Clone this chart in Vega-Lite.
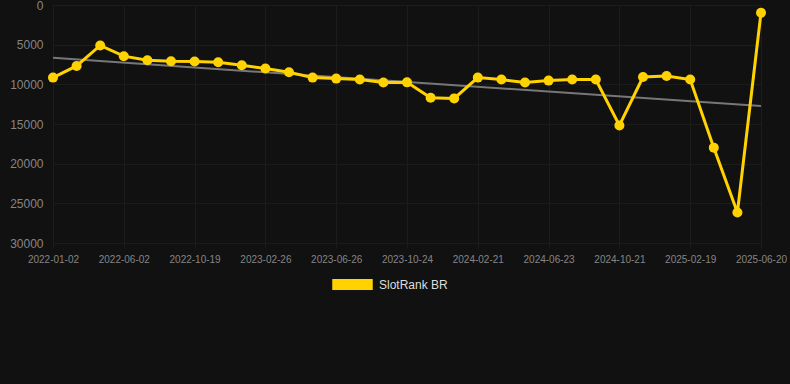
{
  "$schema": "https://vega.github.io/schema/vega-lite/v6.json",
  "autosize": "none",
  "width": 708,
  "height": 238,
  "padding": {"left": 53, "top": 5, "right": 29, "bottom": 141},
  "background": "#111111",
  "config": {
    "view": {"stroke": null},
    "font": "Liberation Sans",
    "axis": {"gridColor": "#1c1c1c", "gridWidth": 1, "domain": false, "labelColor": "#858585", "labelFont": "Liberation Sans"}
  },
  "datasets": {
    "rank": [
      {"date": "2022-01-02", "rank": 9150, "series": "SlotRank BR"},
      {"date": "2022-02-21", "rank": 7680, "series": "SlotRank BR"},
      {"date": "2022-04-12", "rank": 5100, "series": "SlotRank BR"},
      {"date": "2022-06-02", "rank": 6450, "series": "SlotRank BR"},
      {"date": "2022-07-17", "rank": 6960, "series": "SlotRank BR"},
      {"date": "2022-09-03", "rank": 7090, "series": "SlotRank BR"},
      {"date": "2022-10-19", "rank": 7130, "series": "SlotRank BR"},
      {"date": "2022-12-05", "rank": 7220, "series": "SlotRank BR"},
      {"date": "2023-01-15", "rank": 7600, "series": "SlotRank BR"},
      {"date": "2023-02-26", "rank": 8000, "series": "SlotRank BR"},
      {"date": "2023-04-08", "rank": 8480, "series": "SlotRank BR"},
      {"date": "2023-05-17", "rank": 9150, "series": "SlotRank BR"},
      {"date": "2023-06-26", "rank": 9280, "series": "SlotRank BR"},
      {"date": "2023-08-05", "rank": 9400, "series": "SlotRank BR"},
      {"date": "2023-09-14", "rank": 9780, "series": "SlotRank BR"},
      {"date": "2023-10-24", "rank": 9750, "series": "SlotRank BR"},
      {"date": "2023-12-03", "rank": 11680, "series": "SlotRank BR"},
      {"date": "2024-01-12", "rank": 11770, "series": "SlotRank BR"},
      {"date": "2024-02-21", "rank": 9150, "series": "SlotRank BR"},
      {"date": "2024-04-01", "rank": 9400, "series": "SlotRank BR"},
      {"date": "2024-05-12", "rank": 9780, "series": "SlotRank BR"},
      {"date": "2024-06-23", "rank": 9530, "series": "SlotRank BR"},
      {"date": "2024-08-02", "rank": 9400, "series": "SlotRank BR"},
      {"date": "2024-09-11", "rank": 9400, "series": "SlotRank BR"},
      {"date": "2024-10-21", "rank": 15190, "series": "SlotRank BR"},
      {"date": "2024-11-30", "rank": 9080, "series": "SlotRank BR"},
      {"date": "2025-01-09", "rank": 8950, "series": "SlotRank BR"},
      {"date": "2025-02-19", "rank": 9400, "series": "SlotRank BR"},
      {"date": "2025-03-31", "rank": 17980, "series": "SlotRank BR"},
      {"date": "2025-05-10", "rank": 26160, "series": "SlotRank BR"},
      {"date": "2025-06-20", "rank": 980, "series": "SlotRank BR"}
    ],
    "trend": [
      {"date": "2022-01-02", "rank": 6660},
      {"date": "2025-06-20", "rank": 12730}
    ]
  },
  "encoding": {
    "x": {
      "field": "date", "type": "ordinal", "title": null,
      "scale": {"type": "point", "padding": 0},
      "axis": {
        "values": ["2022-01-02", "2022-06-02", "2022-10-19", "2023-02-26", "2023-06-26", "2023-10-24", "2024-02-21", "2024-06-23", "2024-10-21", "2025-02-19", "2025-06-20"],
        "labelAngle": 0, "labelFontSize": 10, "ticks": true, "tickColor": "#1c1c1c", "tickSize": 5, "labelPadding": 6, "grid": true
      }
    },
    "y": {
      "field": "rank", "type": "quantitative", "title": null,
      "scale": {"domain": [0, 30000], "reverse": true, "nice": false},
      "axis": {"values": [0, 5000, 10000, 15000, 20000, 25000, 30000], "labelFontSize": 12, "ticks": false, "labelPadding": 10, "format": "d"}
    }
  },
  "layer": [
    {
      "data": {"name": "trend"},
      "mark": {"type": "line", "color": "#777777", "strokeWidth": 2},
      "encoding": {}
    },
    {
      "data": {"name": "rank"},
      "mark": {"type": "line", "strokeWidth": 3, "point": {"filled": true, "size": 100, "color": "#FFD200"}},
      "encoding": {
        "color": {
          "field": "series", "type": "nominal",
          "scale": {"range": ["#FFD200"]},
          "legend": {
            "title": null, "orient": "none", "legendX": 279, "legendY": 259,
            "symbolType": "M-1,-0.27L1,-0.27L1,0.27L-1,0.27Z", "symbolSize": 1640,
            "symbolFillColor": "#FFD200", "symbolStrokeWidth": 0,
            "labelColor": "#dddddd", "labelFontSize": 12, "labelFont": "Liberation Sans", "labelOffset": 6
          }
        }
      }
    }
  ]
}
